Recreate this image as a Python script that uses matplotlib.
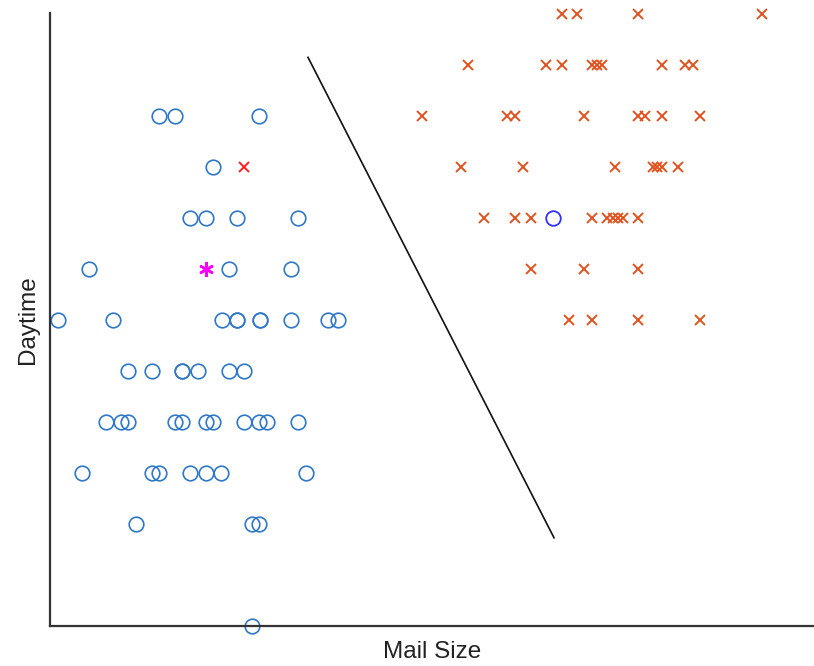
import numpy as np
import matplotlib.pyplot as plt

plt.rcParams['font.family'] = ['Liberation Sans', 'DejaVu Sans']

# ham mails (blue circles): mail size, daytime level
ham_x = [109, 125, 209,
         163,
         140, 156, 187, 248,
         39, 179, 241,
         8, 63, 172, 187, 187, 210, 210, 241, 278, 288,
         78, 102, 132, 132, 148, 179, 194,
         56, 71, 78, 125, 132, 156, 163, 194, 209, 217, 248,
         32, 102, 109, 140, 156, 171, 256,
         86, 202, 209,
         202]
ham_y = [10, 10, 10,
         9,
         8, 8, 8, 8,
         7, 7, 7,
         6, 6, 6, 6, 6, 6, 6, 6, 6, 6,
         5, 5, 5, 5, 5, 5, 5,
         4, 4, 4, 4, 4, 4, 4, 4, 4, 4, 4,
         3, 3, 3, 3, 3, 3, 3,
         2, 2, 2,
         0]

# spam mails (orange crosses)
spam_x = [512, 527, 588, 712,
          418, 496, 512, 542, 547, 552, 612, 635, 643,
          372, 457, 465, 534, 588, 595, 612, 650,
          411, 473, 565, 603, 607, 612, 628,
          434, 465, 481, 542, 557, 563, 568, 573, 588,
          481, 534, 588,
          519, 542, 588, 650]
spam_y = [12, 12, 12, 12,
          11, 11, 11, 11, 11, 11, 11, 11, 11,
          10, 10, 10, 10, 10, 10, 10, 10,
          9, 9, 9, 9, 9, 9, 9,
          8, 8, 8, 8, 8, 8, 8, 8, 8,
          7, 7, 7,
          6, 6, 6, 6]

# special samples
new_ham_x, new_ham_y = [503], [8]
new_spam_x, new_spam_y = [194], [9]
query_x, query_y = [156], [7]

# decision boundary
boundary_x = [258, 504]
boundary_y = [11.15, 1.73]

fig = plt.figure(figsize=(8.14, 6.66), dpi=100)
ax = fig.add_axes([50/814, 40/666, 764/814, 613/666])

ax.plot(ham_x, ham_y, 'o', mfc='none', mec='#2f78c8', ms=10.5, mew=1.2, clip_on=False)
ax.plot(spam_x, spam_y, 'x', color='#e0531f', ms=7, mew=1.4, clip_on=False)
ax.plot(new_ham_x, new_ham_y, 'o', mfc='none', mec='#3030ff', ms=10.5, mew=1.3, clip_on=False)
ax.plot(new_spam_x, new_spam_y, 'x', color='#ff2020', ms=7, mew=1.4, clip_on=False)
ax.plot(query_x, query_y, marker=(6, 2, 0), ls='none', color='#ff00ff', ms=10.5, mew=1.8, clip_on=False)
ax.plot(boundary_x, boundary_y, '-', color='#111111', lw=1.2)

ax.set_xlim(0, 764)
ax.set_ylim(0, 613 / 51)
ax.spines['top'].set_visible(False)
ax.spines['right'].set_visible(False)
for s in ['left', 'bottom']:
    ax.spines[s].set_linewidth(1.6)
    ax.spines[s].set_color('#333333')
ax.set_xticks([])
ax.set_yticks([])
ax.set_xlabel('Mail Size', fontsize=17.5, color='#222222', labelpad=11)
ax.set_ylabel('Daytime', fontsize=17.5, color='#222222', labelpad=8)

fig.savefig('out.png', dpi=100)
